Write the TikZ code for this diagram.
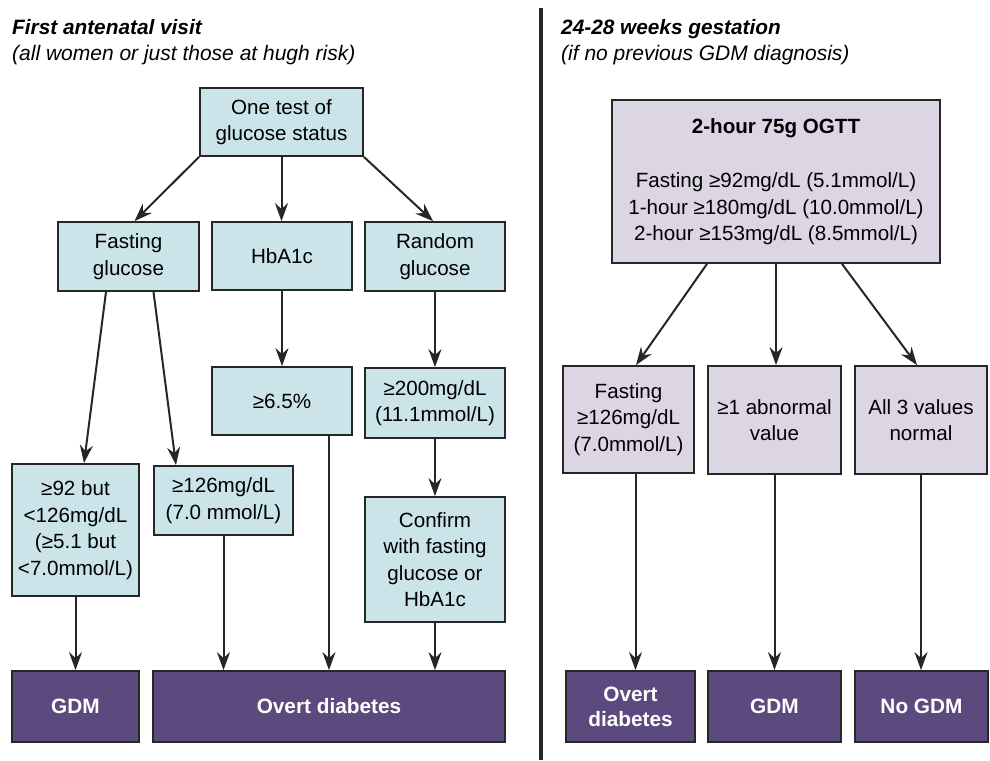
\documentclass[tikz,border=0pt]{standalone}
\usepackage{fontspec}
\setmainfont{Liberation Sans}
\usetikzlibrary{arrows.meta}
\definecolor{boxblue}{HTML}{CAE4EA}
\definecolor{boxlav}{HTML}{DCD6E4}
\definecolor{boxpurple}{HTML}{5C4A7E}
\definecolor{edge}{HTML}{262626}
\begin{document}
\begin{tikzpicture}[x=1pt,y=-1pt,
  every node/.style={font=\fontsize{20.6}{26.5}\selectfont, align=center, inner sep=0pt},
  sz/.style 2 args={minimum width=#1pt, minimum height=#2pt},
  bluebox/.style={draw=edge, line width=1.8pt, fill=boxblue},
  lavbox/.style={draw=edge, line width=1.8pt, fill=boxlav},
  outbox/.style={draw=edge, line width=1.8pt, fill=boxpurple, text=white,
    font=\fontsize{20.8}{25}\selectfont\bfseries},
  heading/.style={anchor=base west, font=\fontsize{20.8}{24}\selectfont\bfseries\itshape},
  subheading/.style={anchor=base west, font=\fontsize{21}{24}\selectfont\itshape},
  arr/.style={draw=edge, line width=2pt, -{Stealth[length=18pt,width=13pt,inset=6pt]}}
]
\useasboundingbox (0,0) rectangle (990,760);

% divider between the two stages
\coordinate (divtop) at (541,8);
\coordinate (divbot) at (541,760);
\draw[edge, line width=3.5pt] (divtop) -- (divbot);

% ---- first antenatal visit ----
\node[heading] (h1) at (12,35) {First antenatal visit};
\node[subheading] (s1) at (12,61) {(all women or just those at hugh risk)};

\node[bluebox, sz={163}{68}] (top) at (281.5,122) {One test of\\glucose status};
\node[bluebox, sz={141}{69}] (fast) at (128.5,256.5) {Fasting\\glucose};
\node[bluebox, sz={140}{68}] (hba) at (282,256) {HbA1c};
\node[bluebox, sz={140}{69}] (rand) at (435,256.5) {Random\\glucose};
\node[bluebox, sz={140}{68}] (b65) at (282,401) {≥6.5\%};
\node[bluebox, sz={140}{70}] (b200) at (435,403) {≥200mg/dL\\(11.1mmol/L)};
\node[bluebox, sz={127}{132}] (b92) at (75.5,530) {≥92 but\\<126mg/dL\\(≥5.1 but\\<7.0mmol/L)};
\node[bluebox, sz={139}{69}] (b126) at (223.5,500.5) {≥126mg/dL\\(7.0 mmol/L)};
\node[bluebox, sz={140}{125}] (conf) at (435,559.5) {Confirm\\with fasting\\glucose or\\HbA1c};
\node[outbox, sz={127}{71}] (gdm) at (75.5,706.5) {GDM};
\node[outbox, sz={352}{71}] (overt) at (329,706.5) {Overt diabetes};

\draw[arr] (top.south west) -- ([xshift=6pt]fast.north);
\draw[arr] (top.south) -- (top.south |- hba.north);
\draw[arr] (top.south east) -- ([xshift=-2pt]rand.north);
\draw[arr] ([xshift=-22.5pt]fast.south) -- ([xshift=8.5pt]b92.north);
\draw[arr] ([xshift=25pt]fast.south) -- ([xshift=-47.5pt]b126.north);
\draw[arr] (hba.south) -- (b65.north);
\draw[arr] (rand.south) -- (b200.north);
\draw[arr] (b200.south) -- (conf.north);
\draw[arr] (b92.south) -- (b92.south |- gdm.north);
\draw[arr] (b126.south) -- (b126.south |- overt.north);
\draw[arr] ([xshift=47pt]b65.south) -- (overt.north);
\draw[arr] (conf.south) -- (conf.south |- overt.north);

% ---- 24-28 weeks ----
\node[heading] (h2) at (561,35) {24-28 weeks gestation};
\node[subheading] (s2) at (561,61) {(if no previous GDM diagnosis)};

\node[lavbox, sz={328}{163}] (ogtt) at (776,181.5)
  {{\bfseries 2-hour 75g OGTT}\\[28pt]Fasting ≥92mg/dL (5.1mmol/L)\\1-hour ≥180mg/dL (10.0mmol/L)\\2-hour ≥153mg/dL (8.5mmol/L)};
\node[lavbox, sz={131}{107}] (f126) at (628.5,419.5) {Fasting\\≥126mg/dL\\(7.0mmol/L)};
\node[lavbox, sz={133}{108}] (abn) at (774.5,420) {≥1 abnormal\\value};
\node[lavbox, sz={132}{108}] (all3) at (921,420) {All 3 values\\normal};
\node[outbox, sz={129}{71}] (ovr2) at (630.5,706.5) {Overt\\diabetes};
\node[outbox, sz={133}{71}] (gdm2) at (774.5,706.5) {GDM};
\node[outbox, sz={133}{71}] (nogdm) at (921.5,706.5) {No GDM};

\draw[arr] ([xshift=-69pt]ogtt.south) -- ([xshift=7.5pt]f126.north);
\draw[arr] (ogtt.south) -- (ogtt.south |- abn.north);
\draw[arr] ([xshift=66pt]ogtt.south) -- ([xshift=-4pt]all3.north);
\draw[arr] ([xshift=7pt]f126.south) -- ([xshift=7pt]f126.south |- ovr2.north);
\draw[arr] (abn.south) -- (abn.south |- gdm2.north);
\draw[arr] (all3.south) -- (all3.south |- nogdm.north);
\end{tikzpicture}
\end{document}
